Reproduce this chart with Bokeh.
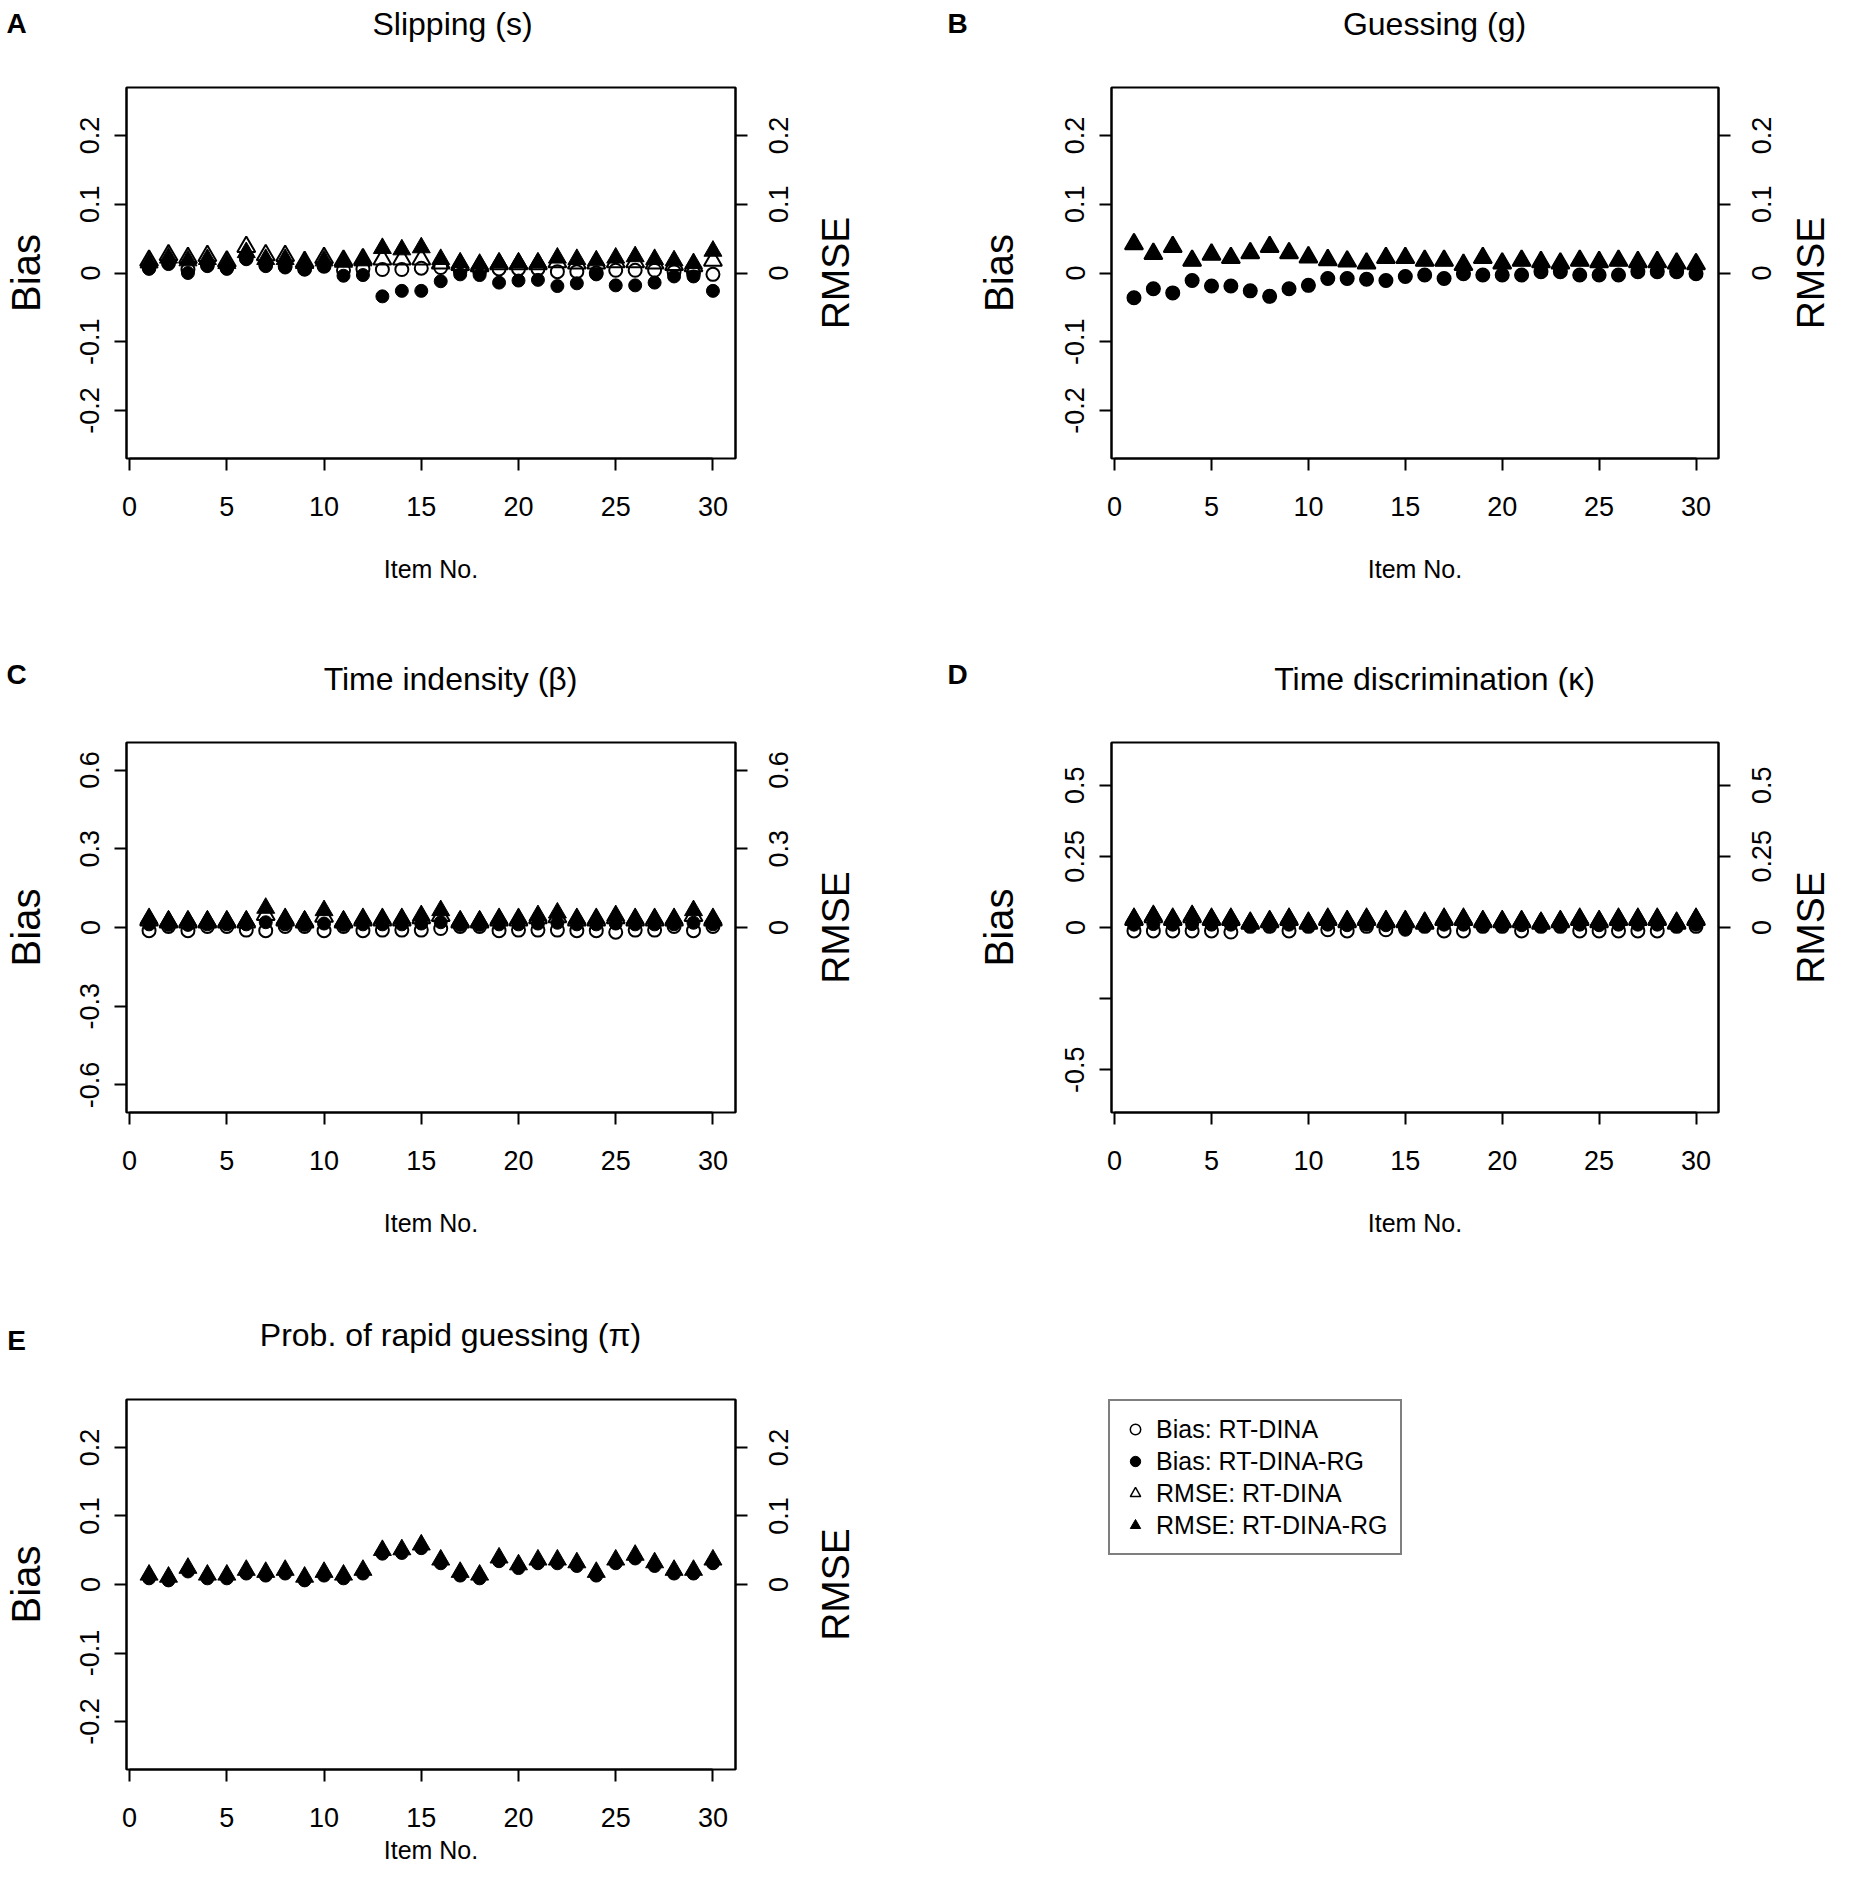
import math
from bokeh.plotting import figure
from bokeh.models import FixedTicker, LinearAxis, Range1d, Label, Legend, LegendItem
from bokeh.layouts import row, column
from bokeh.embed import file_html
from bokeh.resources import INLINE
from bokeh.core.properties import value

FONT = "Liberation Sans"

items = list(range(1, 31))
x_ticks = [0, 5, 10, 15, 20, 25, 30]

# ---------------- Panel A: Slipping (s)
a_bias_dina = [0.008, 0.015, 0.005, 0.012, 0.008, 0.022, 0.012, 0.010, 0.006, 0.010,
               0.004, 0.006, 0.005, 0.005, 0.007, 0.008, 0.004, 0.003, 0.006, 0.006,
               0.006, 0.002, 0.002, 0.000, 0.004, 0.004, 0.004, 0.002, 0.000, -0.002]
a_bias_rg = [0.006, 0.013, 0.000, 0.010, 0.006, 0.020, 0.010, 0.008, 0.005, 0.010,
             -0.004, -0.003, -0.034, -0.026, -0.026, -0.012, -0.002, -0.003, -0.014, -0.011,
             -0.010, -0.019, -0.015, -0.002, -0.018, -0.018, -0.014, -0.005, -0.005, -0.026]
a_rmse_dina = [0.018, 0.026, 0.022, 0.025, 0.017, 0.038, 0.026, 0.025, 0.016, 0.022,
               0.018, 0.020, 0.020, 0.020, 0.020, 0.014, 0.012, 0.010, 0.013, 0.013,
               0.013, 0.016, 0.014, 0.014, 0.016, 0.016, 0.014, 0.012, 0.010, 0.018]
a_rmse_rg = [0.015, 0.022, 0.018, 0.020, 0.014, 0.030, 0.020, 0.020, 0.014, 0.018,
             0.016, 0.018, 0.036, 0.034, 0.037, 0.020, 0.015, 0.013, 0.015, 0.015,
             0.015, 0.022, 0.020, 0.018, 0.022, 0.024, 0.020, 0.018, 0.014, 0.032]

# ---------------- Panel B: Guessing (g)
b_bias_rg = [-0.036, -0.023, -0.029, -0.011, -0.019, -0.019, -0.026, -0.034, -0.023, -0.018,
             -0.008, -0.008, -0.009, -0.011, -0.005, -0.003, -0.008, -0.001, -0.003, -0.003,
             -0.003, 0.002, 0.002, -0.003, -0.003, -0.003, 0.002, 0.002, 0.002, -0.001]
b_rmse_rg = [0.042, 0.028, 0.038, 0.018, 0.027, 0.022, 0.029, 0.038, 0.029, 0.023,
             0.019, 0.017, 0.014, 0.022, 0.022, 0.018, 0.018, 0.012, 0.022, 0.014,
             0.018, 0.016, 0.014, 0.018, 0.016, 0.018, 0.016, 0.016, 0.014, 0.013]
b_bias_dina = [-0.036, -0.023, -0.029, -0.011, -0.019, -0.019, -0.026, -0.034, -0.023, -0.018,
               -0.008, -0.008, -0.009, -0.011, -0.005, -0.003, -0.008, -0.001, -0.003, -0.003,
               -0.003, 0.002, 0.002, -0.003, -0.003, -0.003, 0.002, 0.002, 0.002, -0.001]
b_rmse_dina = [0.042, 0.028, 0.038, 0.018, 0.027, 0.022, 0.029, 0.038, 0.029, 0.023,
               0.019, 0.017, 0.014, 0.022, 0.022, 0.018, 0.018, 0.012, 0.022, 0.014,
               0.018, 0.016, 0.014, 0.018, 0.016, 0.018, 0.016, 0.016, 0.014, 0.013]

# ---------------- Panel C: Time intensity (beta)
c_bias_dina = [-0.012, 0.004, -0.012, 0.004, 0.004, -0.010, -0.012, 0.004, 0.004, -0.012,
               0.004, -0.012, -0.010, -0.010, -0.010, -0.004, 0.004, 0.004, -0.012, -0.010,
               -0.010, -0.010, -0.012, -0.012, -0.018, -0.010, -0.010, 0.004, -0.012, 0.004]
c_bias_rg = [0.012, 0.010, 0.010, 0.012, 0.012, 0.012, 0.020, 0.012, 0.010, 0.015,
             0.010, 0.012, 0.012, 0.012, 0.015, 0.020, 0.010, 0.010, 0.012, 0.012,
             0.015, 0.018, 0.012, 0.012, 0.015, 0.012, 0.012, 0.012, 0.018, 0.012]
c_rmse_dina = [0.027, 0.020, 0.020, 0.020, 0.020, 0.020, 0.048, 0.027, 0.020, 0.042,
               0.020, 0.027, 0.027, 0.027, 0.036, 0.045, 0.020, 0.020, 0.027, 0.027,
               0.036, 0.040, 0.027, 0.027, 0.036, 0.027, 0.027, 0.027, 0.045, 0.027]
c_rmse_rg = [0.035, 0.026, 0.026, 0.026, 0.026, 0.026, 0.074, 0.035, 0.026, 0.065,
             0.026, 0.035, 0.035, 0.035, 0.046, 0.065, 0.026, 0.026, 0.035, 0.035,
             0.046, 0.056, 0.035, 0.035, 0.046, 0.035, 0.035, 0.035, 0.065, 0.035]

# ---------------- Panel D: Time discrimination (kappa)
d_bias_dina = [-0.012, -0.012, -0.012, -0.012, -0.012, -0.016, 0.004, 0.004, -0.012, 0.004,
               -0.008, -0.012, 0.004, -0.008, 0.000, 0.004, -0.012, -0.012, 0.004, 0.004,
               -0.012, 0.004, 0.004, -0.012, -0.012, -0.012, -0.012, -0.012, 0.004, 0.004]
d_bias_rg = [0.010, 0.012, 0.010, 0.012, 0.010, 0.010, 0.006, 0.008, 0.010, 0.006,
             0.010, 0.008, 0.010, 0.008, -0.008, 0.006, 0.010, 0.010, 0.008, 0.008,
             0.008, 0.006, 0.008, 0.010, 0.008, 0.010, 0.010, 0.010, 0.006, 0.010]
d_rmse_dina = [0.027, 0.037, 0.027, 0.037, 0.027, 0.027, 0.014, 0.019, 0.027, 0.014,
               0.027, 0.019, 0.027, 0.019, 0.019, 0.014, 0.027, 0.027, 0.019, 0.019,
               0.019, 0.014, 0.019, 0.027, 0.019, 0.027, 0.027, 0.027, 0.014, 0.027]
d_rmse_rg = [0.033, 0.043, 0.033, 0.043, 0.033, 0.033, 0.019, 0.025, 0.033, 0.019,
             0.033, 0.025, 0.033, 0.025, 0.025, 0.019, 0.033, 0.033, 0.025, 0.025,
             0.025, 0.019, 0.025, 0.033, 0.025, 0.033, 0.033, 0.033, 0.019, 0.033]

# ---------------- Panel E: Prob. of rapid guessing (pi)
e_bias_rg = [0.009, 0.006, 0.019, 0.009, 0.009, 0.016, 0.013, 0.016, 0.006, 0.013,
             0.009, 0.016, 0.045, 0.046, 0.053, 0.031, 0.013, 0.009, 0.034, 0.024,
             0.031, 0.031, 0.027, 0.013, 0.031, 0.038, 0.027, 0.016, 0.016, 0.031]
e_rmse_rg = [0.014, 0.011, 0.024, 0.014, 0.014, 0.021, 0.018, 0.021, 0.011, 0.018,
             0.014, 0.021, 0.050, 0.051, 0.058, 0.036, 0.018, 0.014, 0.039, 0.029,
             0.036, 0.036, 0.032, 0.018, 0.036, 0.043, 0.032, 0.021, 0.021, 0.036]

titles = ["Slipping (s)", "Guessing (g)", "Time indensity (\u03b2)",
          "Time discrimination (\u03ba)", "Prob. of rapid guessing (\u03c0)"]
letters = ["A", "B", "C", "D", "E"]
legend_labels = ["Bias: RT-DINA", "Bias: RT-DINA-RG", "RMSE: RT-DINA", "RMSE: RT-DINA-RG"]

CIRCLE_SIZE = 13
TRI_SIZE = 18
TICK_FS = "27px"


def fmt(v):
    return "%g" % v


def style_axis(ax):
    ax.axis_line_width = 2
    ax.axis_line_color = "black"
    ax.major_tick_line_width = 2
    ax.major_tick_line_color = "black"
    ax.major_tick_out = 12
    ax.major_tick_in = 0
    ax.minor_tick_line_color = None
    ax.major_label_text_font = FONT
    ax.major_label_text_font_size = TICK_FS
    ax.major_label_text_color = "black"
    ax.axis_label_text_font = FONT
    ax.axis_label_text_font_style = "normal"
    ax.axis_label_text_color = "black"


def bare_fig(width, height, xr, yr, bl=0, br=0, bt=0, bb=0):
    f = figure(width=width, height=height, x_range=xr, y_range=yr,
               output_backend="svg", toolbar_location=None, title=None,
               x_axis_location=None, y_axis_location=None,
               min_border_left=bl, min_border_right=br,
               min_border_top=bt, min_border_bottom=bb)
    f.outline_line_color = None
    f.background_fill_color = "white"
    f.border_fill_color = "white"
    f.grid.visible = False
    return f


def make_panel(lw, bias_x, width, side_w, rmse_x, height, bl, bt, bb, frame_w, yr, yticks,
               hidden_labels, rticks, xlab_standoff, series):
    br = width - bl - frame_w
    p = figure(width=width, height=height, title=None,
               x_range=Range1d(-0.16, 31.16), y_range=Range1d(-yr, yr),
               output_backend="svg", toolbar_location=None,
               min_border_left=bl, min_border_right=br,
               min_border_top=bt, min_border_bottom=bb)
    p.background_fill_color = "white"
    p.border_fill_color = "white"
    p.xgrid.visible = False
    p.ygrid.visible = False
    p.outline_line_color = "black"
    p.outline_line_width = 2
    p.outline_line_alpha = 1.0

    xa = p.xaxis[0]
    style_axis(xa)
    xa.ticker = FixedTicker(ticks=x_ticks)
    xa.bounds = (0, 30)
    xa.major_label_standoff = 26
    xa.axis_label = "Item No."
    xa.axis_label_text_font_size = "25px"
    xa.axis_label_standoff = xlab_standoff

    ya = p.yaxis[0]
    style_axis(ya)
    ya.ticker = FixedTicker(ticks=yticks)
    ya.major_label_overrides = {t: ("" if t in hidden_labels else fmt(t)) for t in yticks}
    ya.major_label_orientation = "vertical"
    ya.major_label_standoff = 15

    # right axis: ticks only (labels are drawn in the side strip)
    ra = LinearAxis(ticker=FixedTicker(ticks=rticks))
    style_axis(ra)
    ra.major_label_overrides = {t: "" for t in rticks}
    ra.major_label_text_font_size = "1px"
    ra.major_label_standoff = 0
    p.add_layout(ra, "right")

    bias_dina, bias_rg, rmse_dina, rmse_rg = series
    if bias_dina is not None:
        p.scatter(x=items, y=bias_dina, marker="circle", size=CIRCLE_SIZE,
                  fill_color=None, line_color="black", line_width=2)
    p.scatter(x=items, y=bias_rg, marker="circle", size=CIRCLE_SIZE,
              fill_color="black", line_color="black", line_width=1)
    if rmse_dina is not None:
        p.scatter(x=items, y=rmse_dina, marker="triangle", size=TRI_SIZE,
                  fill_color=None, line_color="black", line_width=2)
    p.scatter(x=items, y=rmse_rg, marker="triangle", size=TRI_SIZE,
              fill_color="black", line_color="black", line_width=1)

    # left strip with the "Bias" axis title (reading bottom-to-top)
    lstrip = bare_fig(lw, height, Range1d(0, lw), p.y_range, bt=bt, bb=bb)
    lstrip.text(x=[bias_x], y=[0], text=["Bias"], angle=math.pi / 2,
                text_align="center", text_baseline="middle",
                text_font=value(FONT), text_font_size=value("40px"), text_color="black")

    # right strip with the RMSE tick labels and axis title (reading bottom-to-top)
    s = bare_fig(side_w, height, Range1d(0, side_w), p.y_range, bt=bt, bb=bb)
    s.text(x=[27] * len(rticks), y=rticks, text=[fmt(t) for t in rticks],
           angle=math.pi / 2, text_align="center", text_baseline="middle",
           text_font=value(FONT), text_font_size=value(TICK_FS), text_color="black")
    s.text(x=[rmse_x], y=[0], text=["RMSE"], angle=math.pi / 2,
           text_align="center", text_baseline="middle",
           text_font=value(FONT), text_font_size=value("39px"), text_color="black")
    return lstrip, p, s


def header(height, entries):
    h = bare_fig(1834, height, Range1d(0, 1834), Range1d(height, 0))
    for txt, x, y, bold, fs in entries:
        h.add_layout(Label(x=x, y=y, text=txt, text_font=FONT, text_font_size=fs,
                           text_font_style="bold" if bold else "normal",
                           text_color="black", text_align="center",
                           text_baseline="middle"))
    return h


LET_FS = "28px"
TIT_FS = "32px"
h1 = header(58, [(letters[0], 16, 23, True, LET_FS), (titles[0], 452, 23, False, TIT_FS),
                 (letters[1], 957, 23, True, LET_FS), (titles[1], 1434, 23, False, TIT_FS)])
h2 = header(50, [(letters[2], 16, 24, True, LET_FS), (titles[2], 450, 28, False, TIT_FS),
                 (letters[3], 957, 24, True, LET_FS), (titles[3], 1434, 28, False, TIT_FS)])
h3 = header(58, [(letters[4], 16, 40, True, LET_FS), (titles[4], 450, 34, False, TIT_FS)])

ab = [-0.2, -0.1, 0, 0.1, 0.2]
# left column panels: strip 0..60, plot 60..751 (frame 126..735), side 751..925
# right column panels: strip 925..1045, plot 1045..1734 (frame 1111..1718), side 1734..1834
lA, pA, sA = make_panel(60, 25, 691, 174, 84, 592, 66, 29, 192, 609, 0.27, ab, [], [0, 0.1, 0.2], 36,
                        (a_bias_dina, a_bias_rg, a_rmse_dina, a_rmse_rg))
lB, pB, sB = make_panel(120, 73, 689, 100, 76, 592, 66, 29, 192, 607, 0.27, ab, [], [0, 0.1, 0.2], 36,
                        (b_bias_dina, b_bias_rg, b_rmse_dina, b_rmse_rg))
lC, pC, sC = make_panel(60, 25, 691, 174, 84, 600, 66, 42, 188, 609, 0.705,
                        [-0.6, -0.3, 0, 0.3, 0.6], [], [0, 0.3, 0.6], 36,
                        (c_bias_dina, c_bias_rg, c_rmse_dina, c_rmse_rg))
lD, pD, sD = make_panel(120, 73, 689, 100, 76, 600, 66, 42, 188, 607, 0.65,
                        [-0.5, -0.25, 0, 0.25, 0.5], [-0.25], [0, 0.25, 0.5], 36,
                        (d_bias_dina, d_bias_rg, d_rmse_dina, d_rmse_rg))
lE, pE, sE = make_panel(60, 25, 691, 174, 84, 515, 66, 41, 104, 609, 0.27, ab, [], [0, 0.1, 0.2], 6,
                        (None, e_bias_rg, None, e_rmse_rg))

# legend panel: same frame height/top as panel E (rows align their frames)
pF = bare_fig(909, 515, Range1d(100, 101), Range1d(-0.27, 0.27), bl=183, br=909 - 183 - 310,
              bt=41, bb=104)
# the legend's renderers carry panel A's series, lying outside this strip's visible range
l_oc = pF.scatter(x=items, y=a_bias_dina, marker="circle", size=CIRCLE_SIZE,
                  fill_color=None, line_color="black", line_width=1.5)
l_fc = pF.scatter(x=items, y=a_bias_rg, marker="circle", size=CIRCLE_SIZE,
                  fill_color="black", line_color="black", line_width=1)
l_ot = pF.scatter(x=items, y=a_rmse_dina, marker="triangle", size=TRI_SIZE,
                  fill_color=None, line_color="black", line_width=1.5)
l_ft = pF.scatter(x=items, y=a_rmse_rg, marker="triangle", size=TRI_SIZE,
                  fill_color="black", line_color="black", line_width=1)
legend = Legend(items=[LegendItem(label=legend_labels[0], renderers=[l_oc]),
                       LegendItem(label=legend_labels[1], renderers=[l_fc]),
                       LegendItem(label=legend_labels[2], renderers=[l_ot]),
                       LegendItem(label=legend_labels[3], renderers=[l_ft])],
                location="top_left")
legend.background_fill_color = "white"
legend.background_fill_alpha = 1.0
legend.border_line_color = "black"
legend.border_line_width = 2
legend.padding = 12
legend.spacing = 0
legend.margin = 0
legend.label_height = 32
legend.glyph_height = 26
legend.glyph_width = 26
legend.label_standoff = 8
legend.label_text_font = FONT
legend.label_text_font_size = "25px"
legend.label_text_color = "black"
pF.add_layout(legend)

layout = column(h1, row(lA, pA, sA, lB, pB, sB),
                h2, row(lC, pC, sC, lD, pD, sD),
                h3, row(lE, pE, sE, pF))

with open("out.html", "w") as f:
    f.write(file_html(layout, INLINE))
